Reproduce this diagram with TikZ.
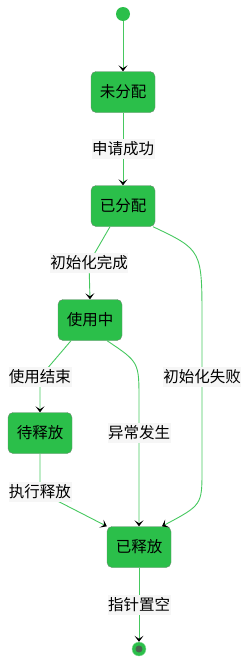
\documentclass[tikz,border=0pt]{standalone}
\usepackage{fontspec}
\setmainfont{Noto Sans CJK SC}
\usetikzlibrary{arrows.meta,positioning,calc}
\definecolor{stgreen}{RGB}{43,191,74}
\definecolor{stborder}{RGB}{110,140,115}
\definecolor{edgegreen}{RGB}{70,200,95}
\definecolor{lblbg}{RGB}{246,246,246}
\definecolor{enddot}{RGB}{75,100,80}

\begin{document}
\begin{tikzpicture}[x=1pt,y=-1pt,
    state/.style={draw=stborder,fill=stgreen,rounded corners=5pt,minimum width=64pt,
        minimum height=41pt,inner sep=0pt,font=\fontsize{15.5pt}{18pt}\selectfont},
    lbl/.style={fill=lblbg,inner xsep=0.5pt,inner ysep=3pt,font=\fontsize{15.5pt}{18pt}\selectfont},
    edge/.style={draw=edgegreen,line width=0.9pt,-{Stealth[black,length=6pt,width=9pt,inset=3pt]}}]
    \useasboundingbox (0,0) rectangle (251,664);
    % states
    \node[circle,fill=stgreen,minimum size=14pt,inner sep=0pt] (start) at (123,14) {};
    \node[state] (unalloc) at (123,92) {未分配};
    \node[state] (alloc) at (123,206) {已分配};
    \node[state] (inuse) at (90,320) {使用中};
    \node[state] (waiting) at (40,433) {待释放};
    \node[state] (released) at (139,547) {已释放};
    \node[circle,fill=stgreen,draw=edgegreen!60,minimum size=14pt,inner sep=0pt] (end) at (139,649) {};
    \node[circle,fill=enddot,minimum size=7pt,inner sep=0pt] (endDot) at (end) {};
    % label points
    \coordinate (pInit) at (89,263);
    \coordinate (pFail) at (202,377);
    \coordinate (pDone) at (40,377);
    \coordinate (pErr) at (139,433);
    \coordinate (pFree) at (40,492);
    % transitions
    \draw[edge] (start) -- (unalloc);
    \draw[edge] (unalloc) -- node[lbl] {申请成功} (alloc);
    \draw[edge] ([xshift=-13pt]alloc.south) -- (pInit) node[lbl] {初始化完成} -- (inuse.north);
    \draw[edge] ([xshift=30pt]alloc.south) .. controls (202,250) .. (202,320)
        -- (pFail) node[lbl] {初始化失败} -- (202,470) .. controls (202,505) .. ([xshift=23pt]released.north);
    \draw[edge] ([xshift=-19pt]inuse.south) -- (pDone) node[lbl] {使用结束} -- (waiting.north);
    \draw[edge] ([xshift=17pt]inuse.south) .. controls (139,362) .. (139,400)
        -- (pErr) node[lbl] {异常发生} -- (released.north);
    \draw[edge] (waiting.south) -- (pFree) node[lbl] {执行释放} -- (released.north west);
    \draw[edge] (released) -- node[lbl] {指针置空} (end);
\end{tikzpicture}
\end{document}
